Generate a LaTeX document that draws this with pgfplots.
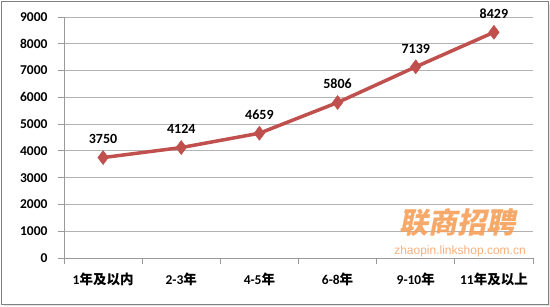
\documentclass[border=0pt]{standalone}
\usepackage{pgfplots}
\pgfplotsset{compat=1.18}
\usepackage{fontspec}
\setmainfont{Carlito}
\newfontfamily\cjk{Noto Sans CJK SC}
\newfontfamily\cjkslant[FakeSlant=0.2]{Noto Sans CJK SC}
\newfontfamily\wmfont{Liberation Sans}
\definecolor{linered}{HTML}{C0504D}
\definecolor{wmorange}{HTML}{F7A05A}
\definecolor{wmlight}{HTML}{F8B07C}
\begin{document}
\begin{tikzpicture}[x=1pt,y=1pt]
\useasboundingbox (0,0) rectangle (550,307);
\fill[gray!20] (4,0.5) rectangle (550,303);
\draw[fill=white, draw=black!50, line width=0.8pt] (1.5,2.5) rectangle (548,305.5);
\begin{axis}[at={(64pt,49pt)}, anchor=south west, scale only axis,
  width=469pt, height=241pt,
  xmin=-0.5, xmax=5.5, ymin=0, ymax=9000,
  ytick={0,1000,...,9000},
  xtick={0,...,5},
  xticklabels={{1\cjk 年及以内},{2-3\cjk 年},{4-5\cjk 年},{6-8\cjk 年},{9-10\cjk 年},{11\cjk 年及以上}},
  minor xtick={-0.5,0.5,...,5.5},
  major x tick style={draw=none},
  tick align=outside,
  major tick length=6pt, minor tick length=6pt,
  axis lines*=left,
  axis line style={draw=black!40, line width=0.8pt},
  tick style={draw=black!40, line width=0.8pt},
  ymajorgrids, grid style={draw=black!30, line width=0.8pt},
  ticklabel style={font=\bfseries\fontsize{13.5}{14}\selectfont},
  /pgf/number format/assume math mode=true,
  /pgf/number format/1000 sep={},
  yticklabel style={xshift=-7pt},
  xticklabel style={yshift=-5pt},
  clip=false,
]
\addplot[color=linered, line width=3.5pt, mark=diamond*, mark size=7pt,
  mark options={solid, fill=linered, line width=0.5pt},
  nodes near coords,
  every node near coord/.append style={font=\bfseries\fontsize{14}{15}\selectfont, text=black, yshift=10pt},
  point meta=explicit symbolic]
  coordinates {(0,3750)[3750] (1,4124)[4124] (2,4659)[4659] (3,5806)[5806] (4,7139)[7139] (5,8429)[8429]};
\end{axis}
\node[text=wmorange, opacity=0.9, font={\cjkslant\bfseries\fontsize{29}{30}\selectfont}] at (457,84) {联商招聘};
\node[text=wmlight, font={\wmfont\fontsize{12}{13}\selectfont}] at (460,56) {zhaopin.linkshop.com.cn};
\end{tikzpicture}
\end{document}
